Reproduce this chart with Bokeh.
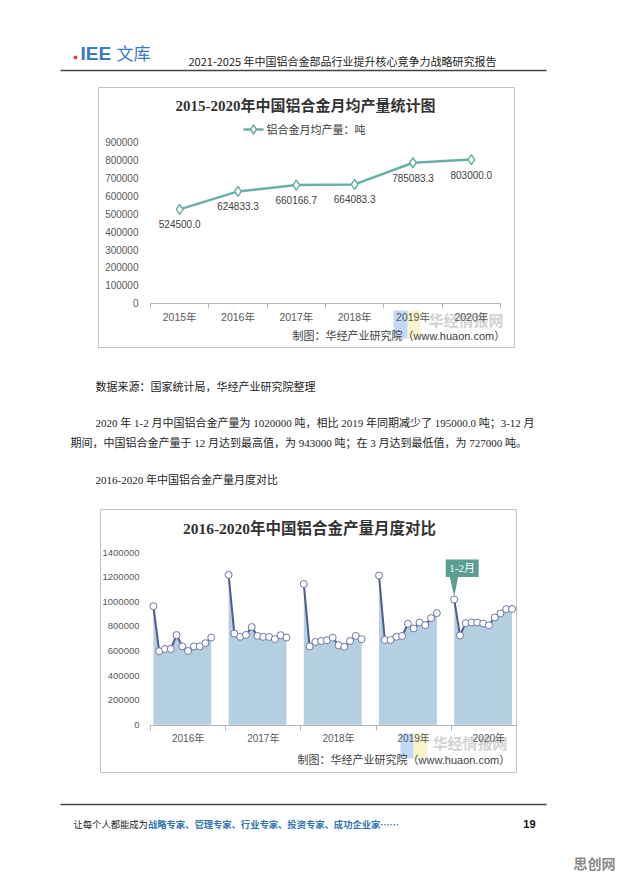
from bokeh.plotting import figure
from bokeh.models import Range1d, LinearAxis, FixedTicker, NumeralTickFormatter
from bokeh.core.properties import value
from bokeh.embed import file_html
from bokeh.resources import INLINE

# ---------------- data ----------------
years_avg = ["2015年", "2016年", "2017年", "2018年", "2019年", "2020年"]
avg_output = [524500.0, 624833.3, 660166.7, 664083.3, 785083.3, 803000.0]
legend_avg = "铝合金月均产量：吨"

years_month = ["2016年", "2017年", "2018年", "2019年", "2020年"]
month_labels = ["1-2月", "3月", "4月", "5月", "6月", "7月", "8月", "9月", "10月", "11月", "12月"]
out_2016 = [965000, 598000, 617000, 617000, 730000, 638000, 600000, 638000, 638000, 664000, 710000]
out_2017 = [1220000, 742000, 716000, 731000, 795000, 723000, 715000, 715000, 697000, 729000, 710000]
out_2018 = [1146000, 638000, 674000, 682000, 688000, 709000, 647000, 635000, 682000, 723000, 696000]
out_2019 = [1215000, 690000, 690000, 716000, 723000, 822000, 784000, 832000, 811000, 868000, 909000]
out_2020 = [1020000, 727000, 827000, 832000, 832000, 824000, 810000, 873000, 906000, 941000, 943000]
monthly = [out_2016, out_2017, out_2018, out_2019, out_2020]

y_ticks_avg = [0, 100000, 200000, 300000, 400000, 500000, 600000, 700000, 800000, 900000]
y_ticks_month = [0, 200000, 400000, 600000, 800000, 1000000, 1200000, 1400000]

header_title = "2021-2025 年中国铝合金部品行业提升核心竞争力战略研究报告"
chart1_title = "2015-2020年中国铝合金月均产量统计图"
chart2_title = "2016-2020年中国铝合金产量月度对比"
source_text = "制图：华经产业研究院（www.huaon.com）"
watermark = "华经情报网"
para_source = "数据来源：国家统计局，华经产业研究院整理"
para_1 = "2020 年 1-2 月中国铝合金产量为 1020000 吨，相比 2019 年同期减少了 195000.0 吨；3-12 月"
para_2 = "期间，中国铝合金产量于 12 月达到最高值，为 943000 吨；在 3 月达到最低值，为 727000 吨。"
para_3 = "2016-2020 年中国铝合金产量月度对比"
footer_a = "让每个人都能成为"
footer_b = "战略专家、管理专家、行业专家、投资专家、成功企业家……"
page_no = "19"

# ---------------- styles / layout ----------------
W, H = 618, 876
FONT_SANS = "Liberation Sans, Noto Sans CJK SC"
FONT_SERIF = "Liberation Serif, Noto Sans CJK SC"
TEAL = "#6aaea5"
NAVY = "#4f5b8c"
AREA = "#b5cfe2"
AXIS_GREY = "#b4b4b4"
LABEL_GREY = "#595959"
GROUP = 13  # slots per year group in monthly chart

p = figure(width=W, height=H, x_range=Range1d(0, W), y_range=Range1d(H, 0),
           x_axis_type=None, y_axis_type=None, toolbar_location=None,
           output_backend="svg", min_border=0, outline_line_color=None)
if p.title is not None:
    p.title.visible = False
p.background_fill_color = "white"
p.border_fill_color = "white"


def lin_range(px_a, val_a, px_b, val_b, px_start, px_end):
    k = (val_b - val_a) / (px_b - px_a)
    return Range1d(start=val_a + (px_start - px_a) * k, end=val_a + (px_end - px_a) * k)


def txt(x, y, s, size, color="#222222", font=FONT_SANS, align="left", bold=False, alpha=1.0):
    p.text(x=[x], y=[y], text=[s], text_font=value(font), text_font_size=f"{size}px",
           text_color=color, text_align=align, text_baseline="middle",
           text_font_style="bold" if bold else "normal", text_alpha=alpha)


# ---------------- page header ----------------
p.scatter(x=[75], y=[57], size=4, fill_color="#d04a3a", line_color=None)
txt(80, 53, "IEE", 19, color="#3b78c8", bold=True)
txt(116, 52, "文库", 17, color="#3b78c8", font="Noto Sans CJK SC")
txt(188, 60, header_title, 11, color="#222222", font="Noto Sans CJK SC")
p.line(x=[60, 546], y=[70, 70], line_color="#444444", line_width=1.5)

# ---------------- chart 1 ----------------
C1_LEFT, C1_CAT = 150.0, 58.33
C1_ZERO, C1_TOP = 302.7, 141.7
p.extra_x_ranges["c1x"] = lin_range(C1_LEFT + 0.5 * C1_CAT, 0, C1_LEFT + 1.5 * C1_CAT, 1, 0, W)
p.extra_y_ranges["c1y"] = lin_range(C1_ZERO, 0, C1_TOP, 900000, H, 0)

p.quad(left=[98], right=[514], top=[87], bottom=[347], fill_color="white", line_color="#c4c4c4", line_width=1)
# watermark logo blocks
p.quad(left=[393], right=[407], top=[310], bottom=[338], fill_color="#8fb8f2", fill_alpha=0.55, line_color=None)
p.quad(left=[407], right=[420], top=[310], bottom=[338], fill_color="#f6eba8", fill_alpha=0.6, line_color=None)
txt(428, 319, watermark, 15, color="#d2d2d2", font="Noto Sans CJK SC", bold=True)

ax1y = LinearAxis(y_range_name="c1y", fixed_location=C1_LEFT, bounds=(0, 900000),
                  ticker=FixedTicker(ticks=y_ticks_avg), formatter=NumeralTickFormatter(format="0"),
                  axis_line_color=None, major_tick_in=0, major_tick_out=0, minor_tick_in=0, minor_tick_out=0,
                  major_label_standoff=12, major_label_text_font_size="10px",
                  major_label_text_color=LABEL_GREY, major_label_text_font=FONT_SANS)
p.add_layout(ax1y, "left")

n1 = len(avg_output)
ax1x = LinearAxis(x_range_name="c1x", fixed_location=C1_ZERO, bounds=(-0.5, n1 - 0.5),
                  ticker=FixedTicker(ticks=list(range(n1)), minor_ticks=[i - 0.5 for i in range(n1 + 1)]),
                  major_label_overrides={i: years_avg[i] for i in range(n1)},
                  axis_line_color=AXIS_GREY, axis_line_width=1,
                  major_tick_in=0, major_tick_out=0, minor_tick_in=0, minor_tick_out=5,
                  minor_tick_line_color=AXIS_GREY,
                  major_label_standoff=3, major_label_text_font_size="10.5px",
                  major_label_text_color=LABEL_GREY, major_label_text_font=FONT_SANS)
p.add_layout(ax1x, "below")

x_avg = list(range(n1))
p.line(x=x_avg, y=avg_output, x_range_name="c1x", y_range_name="c1y", line_color=TEAL, line_width=2.5)
p.scatter(x=x_avg, y=avg_output, x_range_name="c1x", y_range_name="c1y", marker="diamond", size=10,
          fill_color="white", line_color=TEAL, line_width=1.5)
p.text(x=x_avg, y=avg_output, text=[f"{v:.1f}" for v in avg_output], x_range_name="c1x", y_range_name="c1y",
       y_offset=15, text_align="center", text_baseline="middle", text_font=value(FONT_SANS),
       text_font_size="10px", text_color="#404040")

txt(305, 105, chart1_title, 15, color="#333333", font=FONT_SERIF, align="center", bold=True)
# legend
p.line(x=[243, 263], y=[129, 129], line_color=TEAL, line_width=2.5)
p.scatter(x=[253], y=[129], marker="diamond", size=9, fill_color="white", line_color=TEAL, line_width=1.5)
txt(266, 129, legend_avg, 11, color="#404040", font=FONT_SANS)
txt(292, 335, source_text, 11, color="#404040", font=FONT_SANS)

# ---------------- body text ----------------
BODY = "#1e1e1e"
txt(95, 386, para_source, 11, color=BODY, font=FONT_SERIF)
txt(95, 422, para_1, 11, color=BODY, font=FONT_SERIF)
txt(70, 442, para_2, 11, color=BODY, font=FONT_SERIF)
txt(95, 479, para_3, 11, color=BODY, font=FONT_SERIF)

# ---------------- chart 2 ----------------
C2_LEFT, C2_SLOT = 150.0, 75.2 / GROUP
C2_ZERO, C2_TOP = 724.2, 552.3
p.extra_x_ranges["c2x"] = lin_range(C2_LEFT + 0.5 * C2_SLOT, 0, C2_LEFT + 1.5 * C2_SLOT, 1, 0, W)
p.extra_y_ranges["c2y"] = lin_range(C2_ZERO, 0, C2_TOP, 1400000, H, 0)

p.quad(left=[100], right=[516], top=[509], bottom=[772], fill_color="white", line_color="#c4c4c4", line_width=1)
p.quad(left=[400], right=[413], top=[733], bottom=[758], fill_color="#8fb8f2", fill_alpha=0.55, line_color=None)
p.quad(left=[413], right=[427], top=[733], bottom=[758], fill_color="#f6eba8", fill_alpha=0.6, line_color=None)

ng = len(monthly)
ax2y = LinearAxis(y_range_name="c2y", fixed_location=C2_LEFT, bounds=(0, 1400000),
                  ticker=FixedTicker(ticks=y_ticks_month), formatter=NumeralTickFormatter(format="0"),
                  axis_line_color=None, major_tick_in=0, major_tick_out=0, minor_tick_in=0, minor_tick_out=0,
                  major_label_standoff=11, major_label_text_font_size="9.5px",
                  major_label_text_color=LABEL_GREY, major_label_text_font=FONT_SANS)
p.add_layout(ax2y, "left")

centers = [GROUP * j + (GROUP - 1) / 2 for j in range(ng)]
ax2x = LinearAxis(x_range_name="c2x", fixed_location=C2_ZERO + 0.8, bounds=(-0.5, GROUP * ng - 2.2),
                  ticker=FixedTicker(ticks=centers, minor_ticks=[GROUP * j - 0.5 for j in range(ng)]),
                  major_label_overrides={c: years_month[j] for j, c in enumerate(centers)},
                  axis_line_color=AXIS_GREY, axis_line_width=1,
                  major_tick_in=0, major_tick_out=0, minor_tick_in=0, minor_tick_out=5,
                  minor_tick_line_color=AXIS_GREY,
                  major_label_standoff=2, major_label_text_font_size="10px",
                  major_label_text_color=LABEL_GREY, major_label_text_font=FONT_SANS)
p.add_layout(ax2x, "below")

for j, vals in enumerate(monthly):
    xs = [GROUP * j + k for k in range(len(vals))]
    p.varea(x=xs, y1=0, y2=vals, x_range_name="c2x", y_range_name="c2y", fill_color=AREA)
for j, vals in enumerate(monthly):
    xs = [GROUP * j + k for k in range(len(vals))]
    p.line(x=xs, y=vals, x_range_name="c2x", y_range_name="c2y", line_color=NAVY, line_width=2)
    p.scatter(x=xs, y=vals, x_range_name="c2x", y_range_name="c2y", size=7,
              fill_color="white", line_color="#6a76a2", line_width=1)

# callout for 2020 1-2月 (anchored to the data point via the chart's mapping)
ax_px = C2_LEFT + (GROUP * (ng - 1) + 0.5) * C2_SLOT
ay_px = C2_ZERO - out_2020[0] / 1400000 * (C2_ZERO - C2_TOP)
CALL = "#5a9e95"
p.quad(left=[ax_px - 8.5], right=[ax_px + 24.5], top=[ay_px - 40], bottom=[ay_px - 22.5],
       fill_color=CALL, line_color=None)
p.patch(x=[ax_px - 4.5, ax_px + 4, ax_px], y=[ay_px - 22.6, ay_px - 22.6, ay_px - 3], fill_color=CALL, line_color=None)
txt(ax_px + 8, ay_px - 31, month_labels[0], 11, color="white", font=FONT_SERIF, align="center")

txt(309, 528, chart2_title, 15.5, color="#333333", font=FONT_SERIF, align="center", bold=True)
txt(432, 742, watermark, 15, color="#d2d2d2", font="Noto Sans CJK SC", bold=True)
txt(297, 759, source_text, 11, color="#404040", font=FONT_SANS)

# ---------------- footer ----------------
p.line(x=[60, 546], y=[804, 804], line_color="#444444", line_width=1.5)
txt(73, 823, footer_a, 9.3, color="#222222", font="Noto Sans CJK SC")
txt(73 + 8 * 9.3, 823, footer_b, 9.3, color="#2e74b5", font="Noto Sans CJK SC", bold=True)
txt(535, 823, page_no, 11, color="#111111", font="Liberation Sans", align="right", bold=True)
txt(615, 862, "思创网", 14, color="#8a8a8a", font="Noto Sans CJK SC", align="right", bold=True)

open("out.html", "w").write(file_html(p, INLINE))
